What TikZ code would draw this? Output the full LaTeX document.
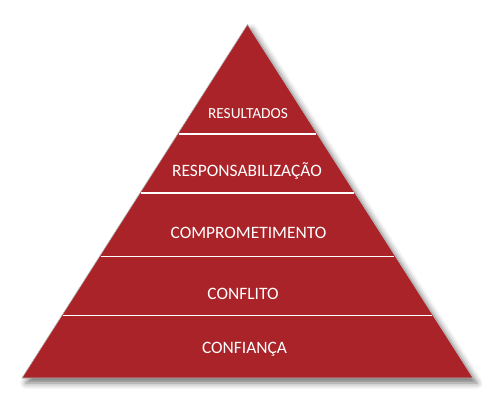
\documentclass[tikz,border=0pt]{standalone}
\usepackage{fontspec}
\setmainfont{Carlito}
\usetikzlibrary{calc,shadows.blur}
\definecolor{pyrred}{HTML}{A92328}
\definecolor{edgegray}{HTML}{B8B8B8}
\tikzset{
  pyramid/.style={fill=pyrred,draw=edgegray,line width=0.6pt,
    blur shadow={shadow xshift=4pt,shadow yshift=-5pt,shadow blur radius=6pt,shadow opacity=55}},
  sep/.style={draw=white,line width=1.6pt},
  lbl/.style={text=white,font=\fontsize{17.4}{20}\selectfont,inner sep=0pt,anchor=center},
  lblsmall/.style={lbl,font=\fontsize{15.4}{17}\selectfont}
}
\begin{document}
\begin{tikzpicture}[x=1pt,y=-1pt]
\useasboundingbox (0,0) rectangle (496,404);
\coordinate (apex) at (247.5,24.5);
\coordinate (bl) at (22,378);
\coordinate (br) at (473,378);
\path[pyramid] (apex) -- (br) -- (bl) -- cycle;
\foreach \t/\n in {0.3098/a,0.4767/b,0.6563/c,0.8232/d}{
  \coordinate (l\n) at ($(apex)!\t!(bl)$);
  \coordinate (r\n) at ($(apex)!\t!(br)$);
}
\draw[sep] ($(la)+(1,0)$) coordinate (la1) -- ($(ra)+(-1,0)$) coordinate (ra1);
\draw[sep] ($(lb)+(1,0)$) coordinate (lb1) -- ($(rb)+(-1,0)$) coordinate (rb1);
\draw[sep] ($(lc)+(1,0)$) coordinate (lc1) -- ($(rc)+(-1,0)$) coordinate (rc1);
\draw[sep] ($(ld)+(1,0)$) coordinate (ld1) -- ($(rd)+(-1,0)$) coordinate (rd1);
\node[lblsmall] (t1) at (248,114) {RESULTADOS};
\node[lbl] (t2) at (247,171.5) {RESPONSABILIZAÇÃO};
\node[lbl] (t3) at (248.5,233) {COMPROMETIMENTO};
\node[lbl] (t4) at (243,293.5) {CONFLITO};
\node[lbl] (t5) at (244.5,349) {CONFIANÇA};
\end{tikzpicture}
\end{document}
